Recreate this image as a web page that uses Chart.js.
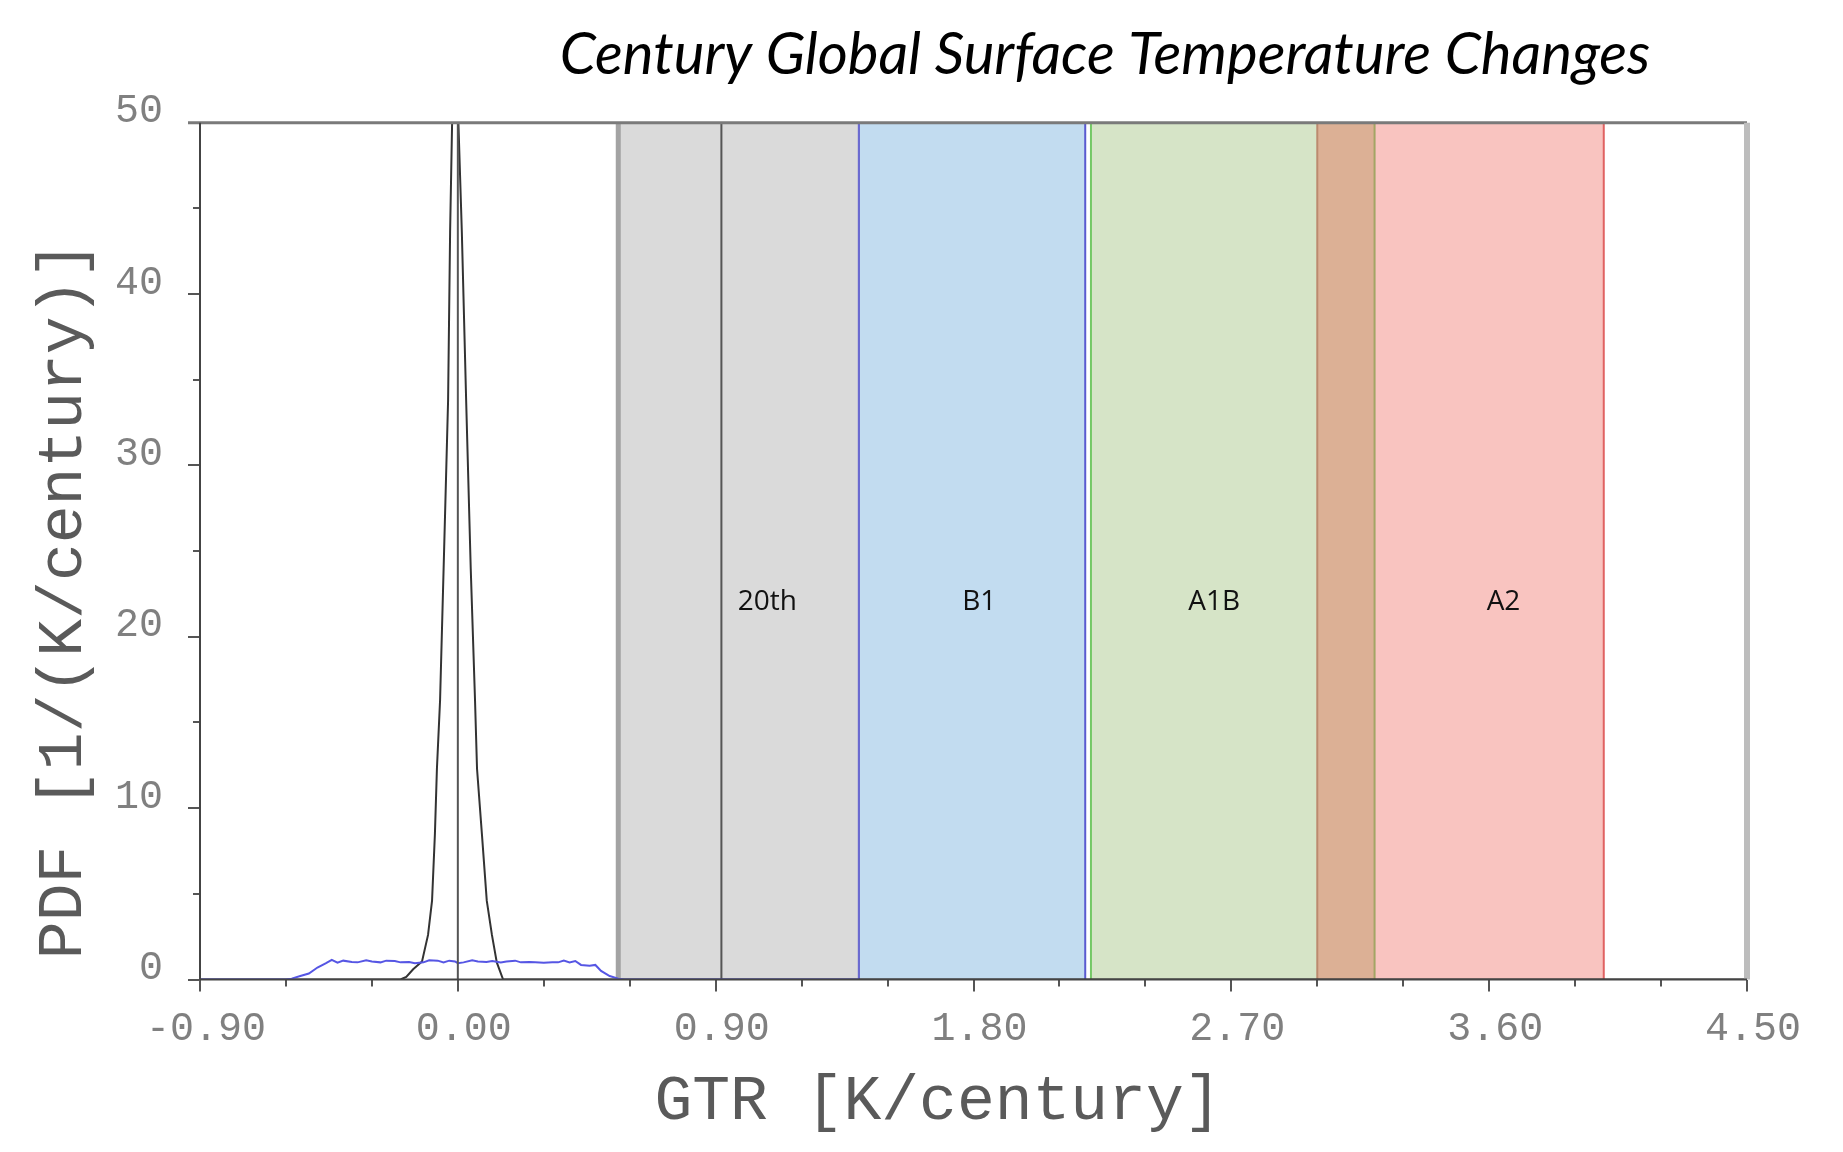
<!DOCTYPE html>
<html>
<head>
<meta charset="utf-8">
<title>Century Global Surface Temperature Changes</title>
<script src="https://cdn.jsdelivr.net/npm/chart.js@4.4.1/dist/chart.umd.min.js"></script>
<style>
  html, body { margin: 0; padding: 0; background: #fff; }
  canvas { display: block; }
</style>
</head>
<body>
<canvas id="chart" width="1843" height="1152"></canvas>
<script>
const titleText = "Century Global Surface Temperature Changes"
const xTitle = "GTR [K/century]"
const yTitle = "PDF [1/(K/century)]"

// axis ranges
const xMin = -0.9, xMax = 4.5, xMajorStep = 0.9, xMinorStep = 0.3
const yMin = 0, yMax = 50, yMajorStep = 10, yMinorStep = 5

// control run PDF (black)
const blackX = [-0.9, -0.30, -0.20, -0.18, -0.156, -0.125, -0.104, -0.09, -0.08, -0.073, -0.062, -0.048, -0.034, -0.027, -0.020, -0.010, 0.002, 0.014, 0.029, 0.045, 0.060, 0.067, 0.084, 0.101, 0.119, 0.136, 0.158, 0.30, 4.5]
const blackY = [0, 0, 0, 0.15, 0.6, 1.05, 2.6, 4.6, 8.5, 12.3, 16.3, 25, 33.8, 43.6, 50, 58, 50, 43.6, 33.8, 24, 16.3, 12.3, 8.5, 4.6, 2.6, 1.0, 0, 0, 0]

// wide flat PDF (blue)
const blueX = [-0.9, -0.60, -0.58, -0.55, -0.52, -0.49, -0.46, -0.44, -0.42, -0.40, -0.37, -0.35, -0.32, -0.30, -0.27, -0.25, -0.22, -0.20, -0.17, -0.15, -0.12, -0.10, -0.07, -0.05, -0.03, -0.01, 0.0, 0.02, 0.05, 0.07, 0.10, 0.12, 0.15, 0.17, 0.20, 0.22, 0.25, 0.27, 0.30, 0.33, 0.35, 0.37, 0.39, 0.41, 0.43, 0.46, 0.48, 0.50, 0.53, 0.56, 0.58, 1.40]
const blueY = [0, 0, 0.05, 0.2, 0.35, 0.7, 0.95, 1.15, 0.98, 1.1, 1.02, 1.0, 1.12, 1.05, 1.0, 1.1, 1.08, 1.0, 1.02, 0.95, 1.0, 1.12, 1.1, 1.0, 1.1, 1.05, 0.95, 1.0, 1.12, 1.05, 1.02, 1.08, 1.0, 1.05, 1.1, 1.0, 1.02, 1.0, 0.98, 1.0, 1.0, 1.1, 1.0, 1.08, 0.85, 0.8, 0.85, 0.5, 0.2, 0.05, 0, 0]

// scenario ranges
const bandNames = ["20th", "B1", "A1B", "A2"]
const bandLo = [0.56, 1.40, 2.21, 3.00]
const bandHi = [1.40, 2.19, 3.20, 4.00]
const bandLabelX = [1.08, 1.82, 2.64, 3.65]
const bandLabelY = 22
const twentiethLine = 0.92
const bandFill = ["#dadada", "#c2dcf0", "#d6e4c7", "#f9c4c0"]
const edgeLoColor = ["#a3a3a3", "#6a6ad0", "#74c866", "#bb8a6f"]
const edgeHiColor = ["#6a6ad0", "#5a5ad0", "#a3a564", "#e06262"]
const overlapFill = "#dcb095"

const monoFont = "'Liberation Mono', 'DejaVu Sans Mono', monospace"

const fmt = v => (Math.abs(v) < 1e-9 ? 0 : v).toFixed(2)

const bandsPlugin = {
  id: "bands",
  beforeDraw(chart) {
    const ctx = chart.ctx
    ctx.save()
    ctx.fillStyle = "#fff"
    ctx.fillRect(0, 0, chart.width, chart.height)
    ctx.restore()
  },
  beforeDatasetsDraw(chart) {
    const { ctx, chartArea: a } = chart
    const xs = chart.scales.x
    const ys = chart.scales.y
    const px = v => xs.getPixelForValue(v)
    ctx.save()
    bandNames.forEach((n, i) => {
      ctx.fillStyle = bandFill[i]
      ctx.fillRect(px(bandLo[i]), a.top, px(bandHi[i]) - px(bandLo[i]), a.height)
    })
    // overlapping ranges
    for (let i = 0; i < bandNames.length; i++) {
      for (let j = i + 1; j < bandNames.length; j++) {
        const lo = Math.max(bandLo[i], bandLo[j])
        const hi = Math.min(bandHi[i], bandHi[j])
        if (hi - lo > 1e-6) {
          ctx.fillStyle = overlapFill
          ctx.fillRect(px(lo), a.top, px(hi) - px(lo), a.height)
        }
      }
    }
    const vline = (v, color, w) => {
      ctx.strokeStyle = color
      ctx.lineWidth = w
      ctx.beginPath()
      ctx.moveTo(px(v), a.top)
      ctx.lineTo(px(v), a.bottom)
      ctx.stroke()
    }
    bandNames.forEach((n, i) => {
      vline(bandLo[i], edgeLoColor[i], i === 0 ? 5 : 2)
      vline(bandHi[i], edgeHiColor[i], 2)
    })
    vline(twentiethLine, "#555", 2)

    ctx.fillStyle = "#111"
    ctx.font = "28px 'Open Sans'"
    ctx.textAlign = "center"
    ctx.textBaseline = "middle"
    bandNames.forEach((n, i) => {
      ctx.fillText(n, px(bandLabelX[i]), ys.getPixelForValue(bandLabelY))
    })
    ctx.restore()
  },
  afterDraw(chart) {
    const { ctx, chartArea: a } = chart
    ctx.save()
    // frame
    ctx.strokeStyle = "#7a7a7a"
    ctx.lineWidth = 3
    ctx.beginPath(); ctx.moveTo(a.left - 12, a.top); ctx.lineTo(a.right, a.top); ctx.stroke()
    ctx.strokeStyle = "#bdbdbd"
    ctx.lineWidth = 6
    ctx.beginPath(); ctx.moveTo(a.right, a.top); ctx.lineTo(a.right, a.bottom); ctx.stroke()
    ctx.strokeStyle = "#444"
    ctx.lineWidth = 2
    ctx.beginPath(); ctx.moveTo(a.left, a.top); ctx.lineTo(a.left, a.bottom); ctx.stroke()
    ctx.beginPath(); ctx.moveTo(a.left, a.bottom); ctx.lineTo(a.right, a.bottom); ctx.stroke()

    // title
    ctx.fillStyle = "#000"
    ctx.font = "italic 58px Lato"
    ctx.textAlign = "center"
    ctx.textBaseline = "alphabetic"
    ctx.fillText(titleText, 1105, 74)

    // axis titles
    ctx.fillStyle = "#5a5a5a"
    ctx.font = "63px " + monoFont
    ctx.textBaseline = "middle"
    ctx.fillText(xTitle, 938, 1102)
    ctx.translate(64, 600)
    ctx.rotate(-Math.PI / 2)
    ctx.fillText(yTitle, 0, 0)
    ctx.restore()
  }
}

const pts = (xs, ys) => xs.map((x, i) => ({ x, y: ys[i] }))

new Chart(document.getElementById("chart"), {
  type: "line",
  data: {
    datasets: [
      {
        data: [{ x: 0, y: yMin }, { x: 0, y: yMax }],
        borderColor: "#555",
        borderWidth: 2,
        pointRadius: 0
      },
      {
        data: pts(blueX, blueY),
        borderColor: "#5656e4",
        borderWidth: 2,
        pointRadius: 0,
        tension: 0
      },
      {
        data: pts(blackX, blackY),
        borderColor: "#333",
        borderWidth: 2,
        pointRadius: 0,
        tension: 0
      }
    ]
  },
  options: {
    responsive: false,
    animation: false,
    layout: { padding: { top: 122.7, right: 96, left: 0, bottom: 0 } },
    plugins: {
      legend: { display: false },
      tooltip: { enabled: false }
    },
    scales: {
      x: {
        type: "linear",
        position: "bottom",
        weight: 1,
        min: xMin,
        max: xMax,
        afterFit(s) { s.height = 172.5 },
        border: { display: false },
        grid: { drawOnChartArea: false, tickLength: 12, color: "#555", lineWidth: 2 },
        ticks: {
          stepSize: xMajorStep,
          color: "#808080",
          font: { family: monoFont, size: 40 },
          padding: 14,
          labelOffset: 6,
          maxRotation: 0,
          autoSkip: false,
          callback: v => fmt(v)
        }
      },
      xm: {
        type: "linear",
        position: "bottom",
        weight: 0,
        min: xMin,
        max: xMax,
        afterFit(s) { s.height = 0 },
        border: { display: false },
        grid: { drawOnChartArea: false, tickLength: 7, color: "#555", lineWidth: 2 },
        ticks: { display: false, stepSize: xMinorStep, autoSkip: false }
      },
      y: {
        position: "left",
        weight: 1,
        min: yMin,
        max: yMax,
        afterFit(s) { s.width = 200 },
        border: { display: false },
        grid: { drawOnChartArea: false, tickLength: 12, color: "#555", lineWidth: 2 },
        ticks: {
          stepSize: yMajorStep,
          color: "#808080",
          font: { family: monoFont, size: 40 },
          padding: 25,
          labelOffset: -11
        }
      },
      ym: {
        position: "left",
        weight: 0,
        min: yMin,
        max: yMax,
        afterFit(s) { s.width = 0 },
        border: { display: false },
        grid: { drawOnChartArea: false, tickLength: 7, color: "#555", lineWidth: 2 },
        ticks: { display: false, stepSize: yMinorStep }
      }
    }
  },
  plugins: [bandsPlugin]
})
</script>
</body>
</html>
